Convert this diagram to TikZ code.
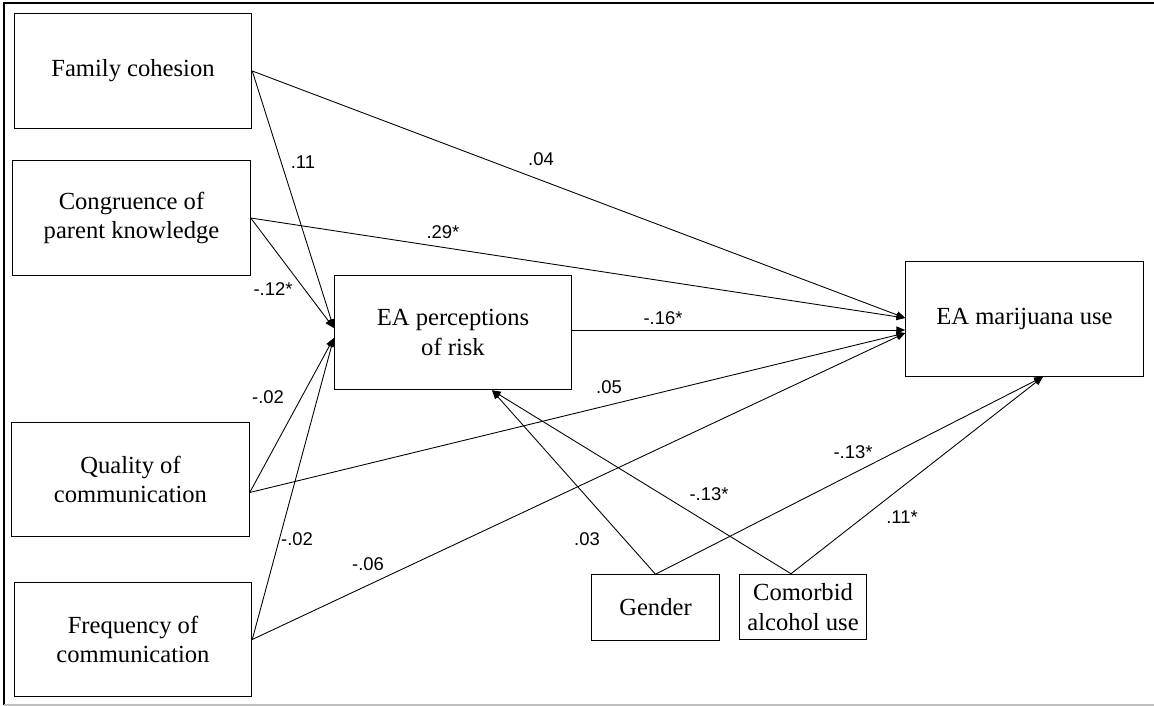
\documentclass[tikz,border=0pt]{standalone}
\usepackage{fontspec}
\setmainfont{Liberation Serif}
\newfontfamily\coeffont{Liberation Sans}
\usetikzlibrary{positioning,calc,arrows.meta}

\begin{document}
\begin{tikzpicture}[x=0.02cm,y=-0.02cm,
		var/.style={draw,line width=0.6pt,inner sep=0pt,align=center,minimum width=4.75cm,minimum height=2.29cm,font=\fontsize{14}{17}\selectfont},
		cov/.style={var,minimum width=2.55cm,minimum height=1.31cm},
		path/.style={-{Triangle[length=5pt,width=4pt]},line width=0.5pt},
		coef/.style={inner sep=0pt,font=\coeffont\fontsize{10.5}{12}\selectfont}]
		\useasboundingbox (0,0) rectangle (1154,706);
		\draw[line width=1.2pt] (1154,3) -- (4,3) -- (4,705);
		\draw[gray!50,line width=0.8pt] (4,705) -- (1154,705);

		\node[var] (fam) at (133,71) {Family cohesion};
		\node[var] (cong) at (131.5,218) {Congruence of\\parent knowledge};
		\node[var] (qual) at (130.5,479.5) {Quality of\\communication};
		\node[var] (freq) at (133,639.5) {Frequency of\\communication};
		\node[var] (risk) at (453,332.5) {EA perceptions\\of risk};
		\node[var] (use) at (1024.5,319) {EA marijuana use};
		\node[cov] (gen) at (655.5,607.5) {Gender};
		\node[cov] (alc) at (803,607) {Comorbid\\alcohol use};

		\coordinate (r0) at ($(risk.east)+(0,-2.5)$);
		\coordinate (r1) at ($(risk.west)+(0,-4.5)$);
		\coordinate (r2) at ($(risk.west)+(0,5.5)$);
		\coordinate (r3) at ($(risk.south)+(39,0)$);
		\coordinate (u1) at ($(use.west)+(0,-1)$);
		\coordinate (u2) at ($(use.west)+(0,14)$);
		\coordinate (u3) at ($(use.south)+(18.5,0)$);
		\coordinate (u4) at ($(use.west)+(0,11)$);
		\coordinate (q0) at ($(qual.east)+(0,13)$);
		\coordinate (a0) at ($(alc.north)+(-12,0)$);

		\draw[path] (fam.east) -- (r1);
		\draw[path] (cong.east) -- (r1);
		\draw[path] (q0) -- (r2);
		\draw[path] (freq.east) -- (r2);
		\draw[path] (fam.east) -- (u1);
		\draw[path] (cong.east) -- (u1);
		\draw[path] (q0) -- (u2);
		\draw[path] (freq.east) -- (u2);
		\draw[path] (r0) -- (u4);
		\draw[path] (gen.north) -- (r3);
		\draw[path] (a0) -- (r3);
		\draw[path] (gen.north) -- (u3);
		\draw[path] (a0) -- (u3);

		\node[coef] (c1) at (303,162) {.11};
		\node[coef] (c2) at (273,289) {-.12*};
		\node[coef] (c3) at (268,397) {-.02};
		\node[coef] (c4) at (297,539) {-.02};
		\node[coef] (c5) at (368,564) {-.06};
		\node[coef] (c6) at (541,159) {.04};
		\node[coef] (c7) at (443,232) {.29*};
		\node[coef] (c8) at (663,318) {-.16*};
		\node[coef] (c9) at (609,387) {.05};
		\node[coef] (c10) at (587,539) {.03};
		\node[coef] (c11) at (709,494) {-.13*};
		\node[coef] (c12) at (853,452) {-.13*};
		\node[coef] (c13) at (902,517) {.11*};
	\end{tikzpicture}
\end{document}
